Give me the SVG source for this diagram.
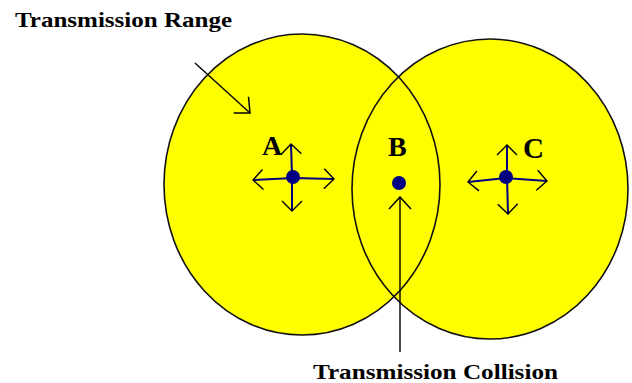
<svg xmlns="http://www.w3.org/2000/svg" width="632" height="383" viewBox="0 0 632 383">
<style>
.fill{fill:#ffff00;stroke:none}
.ring{fill:none;stroke:#111;stroke-width:1.6}
.ax{stroke:#000080;stroke-width:2;fill:none}
.pt{stroke:#000;stroke-width:1.4;fill:none}
.dot{fill:#000080}
.lbl{font-family:"Liberation Serif","Times New Roman",serif;font-weight:bold;fill:#000}
</style>
<defs>
<marker id="chev" viewBox="0 0 12 22" refX="11" refY="11" markerWidth="12" markerHeight="22" markerUnits="userSpaceOnUse" orient="auto">
<path d="M1,1 L11,11 L1,21" fill="none" stroke="#000" stroke-width="1.4"/>
</marker>
<marker id="big" viewBox="0 0 14 24" refX="13" refY="12" markerWidth="14" markerHeight="24" markerUnits="userSpaceOnUse" orient="auto">
<path d="M1,1 L13,12 L1,23" fill="none" stroke="#000" stroke-width="1.5"/>
</marker>
</defs>
<g id="ranges">
<ellipse class="fill" cx="302" cy="184.5" rx="138" ry="150.5"/>
<ellipse class="fill" cx="490" cy="189" rx="138" ry="150"/>
<ellipse class="ring" cx="302" cy="184.5" rx="138" ry="150.5"/>
<ellipse class="ring" cx="490" cy="189" rx="138" ry="150"/>
</g>
<g id="connectors">
<line class="pt" x1="195" y1="63" x2="250" y2="113" marker-end="url(#big)"/>
<line class="pt" x1="400" y1="352" x2="400" y2="197" marker-end="url(#big)"/>
</g>
<g id="node-A">
<line class="ax" x1="293" y1="178" x2="253" y2="180" marker-end="url(#chev)"/>
<line class="ax" x1="293" y1="178" x2="334" y2="179" marker-end="url(#chev)"/>
<line class="ax" x1="292" y1="177" x2="291" y2="144" marker-end="url(#chev)"/>
<line class="ax" x1="292" y1="177" x2="292" y2="211" marker-end="url(#chev)"/>
<circle class="dot" cx="293" cy="177" r="7"/>
<text class="lbl" x="262" y="155" font-size="28">A</text>
</g>
<g id="node-B">
<circle class="dot" cx="399" cy="183" r="7"/>
<text class="lbl" x="388" y="156" font-size="28">B</text>
</g>
<g id="node-C">
<line class="ax" x1="506" y1="178" x2="468" y2="182" marker-end="url(#chev)"/>
<line class="ax" x1="506" y1="178" x2="547" y2="181" marker-end="url(#chev)"/>
<line class="ax" x1="507" y1="177" x2="507" y2="145" marker-end="url(#chev)"/>
<line class="ax" x1="507" y1="177" x2="508" y2="214" marker-end="url(#chev)"/>
<circle class="dot" cx="506" cy="177" r="7"/>
<text class="lbl" x="523" y="158" font-size="29">C</text>
</g>
<g id="labels">
<text class="lbl" x="15" y="27" font-size="22" textLength="217" lengthAdjust="spacingAndGlyphs">Transmission Range</text>
<text class="lbl" x="313" y="379" font-size="22" textLength="245" lengthAdjust="spacingAndGlyphs">Transmission Collision</text>
</g>
</svg>
